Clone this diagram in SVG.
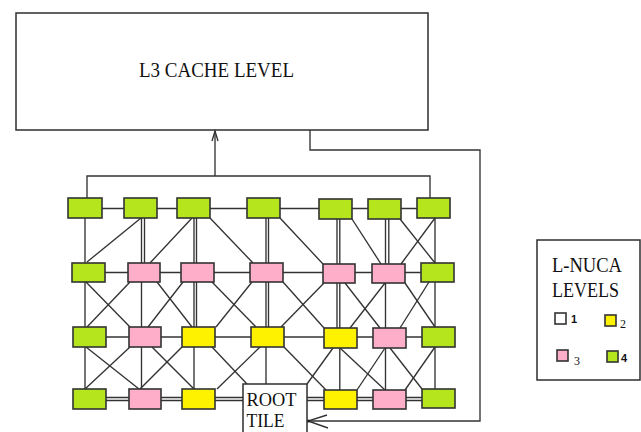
<svg xmlns="http://www.w3.org/2000/svg" width="641" height="432" viewBox="0 0 641 432">
<style>
.bg{fill:#fff}
.box{fill:#fff;stroke:#2e2e2e;stroke-width:1.5}
.n{stroke:#333;stroke-width:1.6}
.g{fill:#b5e61d}
.p{fill:#ffaec9}
.y{fill:#fff200}
.w{fill:#fff}
.ln{fill:none;stroke:#333;stroke-width:1.35}
.t{font-family:"Liberation Serif","Times New Roman",serif;fill:#111}
.s{font-family:"Liberation Sans",Arial,sans-serif;font-weight:bold;fill:#111}
</style>
<rect class="bg" x="0" y="0" width="641" height="432"/>

<g id="l3-cache">
<rect class="box" x="16" y="13" width="412" height="117"/>
<text class="t" x="139" y="77" font-size="20" textLength="155" lengthAdjust="spacingAndGlyphs">L3 CACHE LEVEL</text>
</g>

<g id="connectors" class="ln">
<path d="M87,198 V176 H430 V198"/>
<path d="M215,176 V131"/>
<path d="M212,141 L215,131 L218,141"/>
<path d="M310,130 V150 H480 V421 H308"/>
<path d="M327,415 L308,421 L328,428"/>
<path d="M85,208.5 H435"/>
<path d="M88,272.5 H437"/>
<path d="M89,337 H438"/>
<path d="M89,397.5 H438 M89,400.5 H438"/>
<path d="M85,208 V399"/>
<path d="M141.5,208 V399 M144.5,218 V263"/>
<path d="M194,208 V399 M196.5,218 V327"/>
<path d="M266,208 V384 M268.5,218 V327"/>
<path d="M337,208 V328 M339.8,218 V390"/>
<path d="M385.5,208 V399 M388.8,219 V264"/>
<path d="M435,208 V399"/>
<path d="M141,218 L87,262"/>
<path d="M192,218 L150,263"/>
<path d="M210,218 L253,263"/>
<path d="M280,218 L323,264"/>
<path d="M352,219 L381,264"/>
<path d="M400,219 L435,263"/>
<path d="M435,218 L401,264"/>
<path d="M86,282 L130,327"/>
<path d="M130,282 L87,327"/>
<path d="M157,282 L192,327"/>
<path d="M183,282 L148,327"/>
<path d="M212,282 L256,327"/>
<path d="M252,282 L216,327"/>
<path d="M283,282 L324,328"/>
<path d="M324,283 L281,327"/>
<path d="M345,283 L380,328"/>
<path d="M385,283 L350,328"/>
<path d="M405,283 L435,327"/>
<path d="M429,282 L400,328"/>
<path d="M86,347 L139,389"/>
<path d="M130,347 L85,389"/>
<path d="M152,347 L194,389"/>
<path d="M182,347 L140,389"/>
<path d="M212,347 L247,384"/>
<path d="M260,347 L217,389"/>
<path d="M284,347 L326,390"/>
<path d="M333,348 L307,384"/>
<path d="M340,348 L385,390"/>
<path d="M385,348 L357,390"/>
<path d="M390,348 L422,389"/>
<path d="M435,347 L405,390"/>
</g>
<circle cx="308.5" cy="421" r="1.6" fill="#222"/>

<g id="A0"><rect class="n g" x="68" y="198" width="34" height="20"/></g>
<g id="A1"><rect class="n g" x="124" y="198" width="33" height="20"/></g>
<g id="A2"><rect class="n g" x="177" y="198" width="33" height="20"/></g>
<g id="A3"><rect class="n g" x="247" y="198" width="33" height="20"/></g>
<g id="A4"><rect class="n g" x="319" y="199" width="33" height="20"/></g>
<g id="A5"><rect class="n g" x="368" y="199" width="33" height="20"/></g>
<g id="A6"><rect class="n g" x="417" y="198" width="33" height="20"/></g>

<g id="B0"><rect class="n g" x="72" y="263" width="33" height="19"/></g>
<g id="B1"><rect class="n p" x="128" y="263" width="32" height="19"/></g>
<g id="B2"><rect class="n p" x="181" y="263" width="33" height="19"/></g>
<g id="B3"><rect class="n p" x="250" y="263" width="33" height="19"/></g>
<g id="B4"><rect class="n p" x="323" y="264" width="32" height="19"/></g>
<g id="B5"><rect class="n p" x="372" y="264" width="33" height="19"/></g>
<g id="B6"><rect class="n g" x="421" y="263" width="33" height="19"/></g>

<g id="C0"><rect class="n g" x="73" y="327" width="33" height="20"/></g>
<g id="C1"><rect class="n p" x="129" y="327" width="32" height="20"/></g>
<g id="C2"><rect class="n y" x="182" y="327" width="33" height="20"/></g>
<g id="C3"><rect class="n y" x="251" y="327" width="33" height="20"/></g>
<g id="C4"><rect class="n y" x="324" y="328" width="33" height="20"/></g>
<g id="C5"><rect class="n p" x="373" y="328" width="33" height="20"/></g>
<g id="C6"><rect class="n g" x="422" y="327" width="33" height="20"/></g>

<g id="D0"><rect class="n g" x="73" y="389" width="33" height="20"/></g>
<g id="D1"><rect class="n p" x="129" y="389" width="32" height="20"/></g>
<g id="D2"><rect class="n y" x="182" y="389" width="33" height="20"/></g>
<g id="D4"><rect class="n y" x="324" y="390" width="33" height="19"/></g>
<g id="D5"><rect class="n p" x="373" y="390" width="33" height="19"/></g>
<g id="D6"><rect class="n g" x="422" y="389" width="33" height="19"/></g>

<g id="root-tile">
<rect class="box" x="243" y="384" width="64" height="60"/>
<text class="t" x="246.5" y="406" font-size="19" textLength="50" lengthAdjust="spacingAndGlyphs">ROOT</text>
<text class="t" x="246.5" y="427" font-size="18" textLength="38" lengthAdjust="spacingAndGlyphs">TILE</text>
</g>

<g id="legend">
<rect class="box" x="537" y="240" width="103" height="140"/>
<text class="t" x="552" y="272" font-size="20" textLength="70" lengthAdjust="spacingAndGlyphs">L-NUCA</text>
<text class="t" x="552" y="297" font-size="20" textLength="67" lengthAdjust="spacingAndGlyphs">LEVELS</text>
<rect class="n w" x="555" y="313" width="11" height="11"/>
<text class="s" x="571" y="323" font-size="11">1</text>
<rect class="n y" x="605" y="315" width="11" height="11"/>
<text class="t" x="620" y="328" font-size="12">2</text>
<rect class="n p" x="557" y="350" width="11" height="11"/>
<text class="t" x="574" y="365" font-size="12">3</text>
<rect class="n g" x="607" y="351" width="11" height="11"/>
<text class="s" x="621" y="362" font-size="11">4</text>
</g>
</svg>
